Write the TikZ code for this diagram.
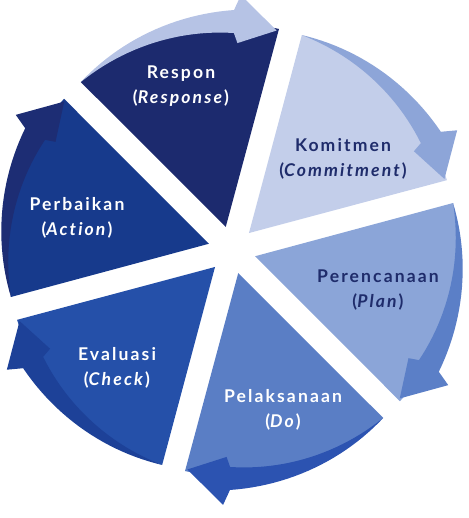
\documentclass[tikz,border=0pt]{standalone}
\usepackage{fontspec}
\setmainfont{Lato}[LetterSpace=12, Ligatures=NoCommon]
\usepackage{xcolor}
\usepackage{tikz}

\definecolor{respon}{HTML}{1C2A6E}
\definecolor{responband}{HTML}{B6C3E5}
\definecolor{komitmen}{HTML}{C3CEEA}
\definecolor{komitmenband}{HTML}{8DA5D8}
\definecolor{rencana}{HTML}{8BA5D8}
\definecolor{rencanaband}{HTML}{5B7FC7}
\definecolor{laksana}{HTML}{5A7EC5}
\definecolor{laksanaband}{HTML}{2C53B1}
\definecolor{evaluasi}{HTML}{2550A9}
\definecolor{evaluasiband}{HTML}{1D4198}
\definecolor{perbaikan}{HTML}{173A8C}
\definecolor{perbaikanband}{HTML}{1D2D74}
\definecolor{darktext}{HTML}{1F2C6B}

\tikzset{
	lbl/.style={align=center, font=\bfseries\fontsize{10}{14}\selectfont},
}

\begin{document}
\begin{tikzpicture}[x=0.02cm,y=0.02cm]
			\useasboundingbox (-232,-268) rectangle (236,250);
			\foreach \h/\fc in {135/respon, 75/komitmen, 15/rencana, -45/laksana, -105/evaluasi, -165/perbaikan}
			{
				\fill[\fc] (\h-30:24) -- (\h-3:226) arc[start angle=\h-3, end angle=\h-57, radius=226] -- cycle;
			}
			\foreach \h/\bc in {135/responband, 75/komitmenband, 15/rencanaband, -45/laksanaband, -105/evaluasiband, -165/perbaikanband}
			{
				\fill[\bc] plot[domain=0:1, samples=25, variable=\t] ({\h-3-42.5*\t}:{226+14*\t})
					-- (\h-47:255) -- (\h-56.5:224) -- (\h-46.5:207)
					-- plot[domain=1:0, samples=25, variable=\t] ({\h-3-42.5*\t}:{226-9*\t}) -- cycle;
			}
			\node[lbl, text=white] (respon) at (-51,164) {Respon\\(\textit{Response})};
			\node[lbl, text=darktext] (komitmen) at (111,91) {Komitmen\\(\textit{Commitment})};
			\node[lbl, text=darktext] (perencanaan) at (146,-40) {Perencanaan\\(\textit{Plan})};
			\node[lbl, text=white] (pelaksanaan) at (51,-160) {Pelaksanaan\\(\textit{Do})};
			\node[lbl, text=white] (evaluasi) at (-115,-118) {Evaluasi\\(\textit{Check})};
			\node[lbl, text=white] (perbaikan) at (-155,32) {Perbaikan\\(\textit{Action})};
		\end{tikzpicture}
\end{document}
